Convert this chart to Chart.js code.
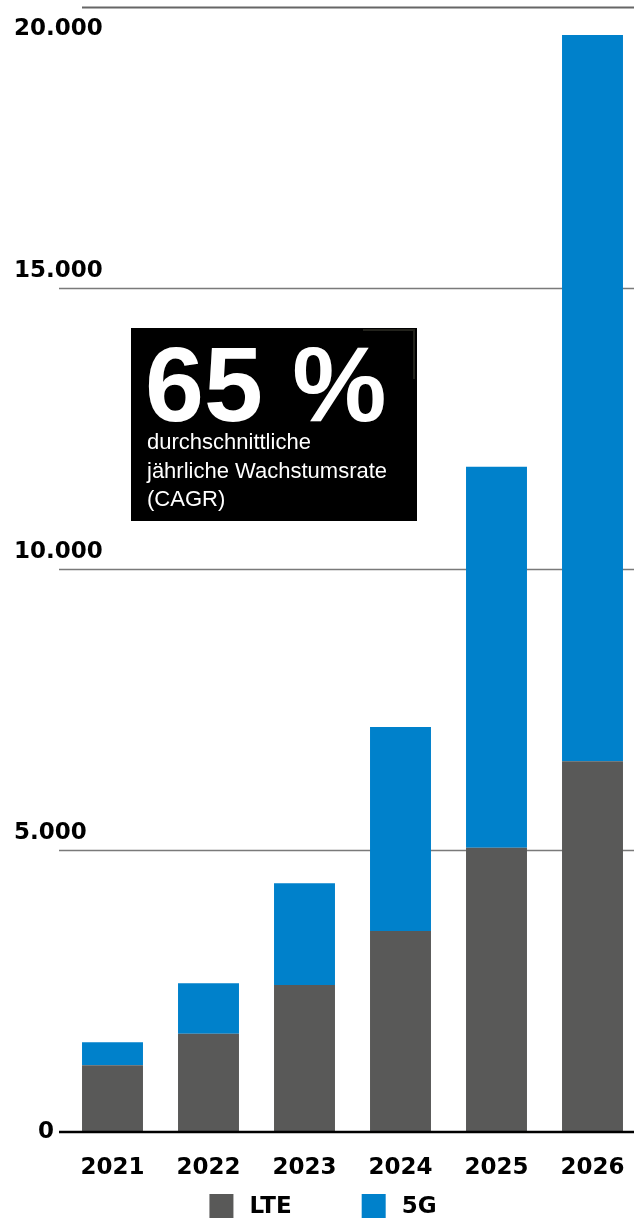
<!DOCTYPE html>
<html>
<head>
    <title>LTE / 5G</title>
    <script src="https://cdn.jsdelivr.net/npm/chart.js"></script>
    <meta charset="UTF-8" />
    <style>
  html, body {
    margin: 0;
    padding: 0;
    overflow: hidden;
    background: #fff;
  }
  .wrap {
    position: relative;
    width: 646px;
    height: 1218px;
  }
  .cagr {
    position: absolute;
    left: 131px;
    top: 328px;
    width: 286px;
    height: 193px;
    background: #000;
    color: #fff;
    font-family: "Liberation Sans", Arial, sans-serif;
  }
  .cagr .big {
    position: absolute;
    left: 14px;
    top: 3px;
    font-size: 106px;
    line-height: 106px;
    font-weight: bold;
    letter-spacing: 0px;
    white-space: nowrap;
  }
  .cagr .small {
    position: absolute;
    left: 16px;
    top: 100px;
    font-size: 22px;
    line-height: 28.5px;
  }
  .cagr .corner {
    position: absolute;
    right: 2px;
    top: 1px;
    width: 50px;
    height: 48px;
    border-top: 2px solid #22221c;
    border-right: 2px solid #22221c;
  }
</style>
</head>
<body>
  <div class="wrap">
    <canvas id="myChart" width="646" height="1218"></canvas>
    <div class="cagr">
      <div class="corner"></div>
      <div class="big">65 %</div>
      <div class="small">durchschnittliche<br>jährliche Wachstumsrate<br>(CAGR)</div>
    </div>
  </div>
    <script>
        // values
        const years = ['2021', '2022', '2023', '2024', '2025', '2026'];
        const lte = [1170, 1730, 2600, 3560, 5040, 6580];
        const fiveG = [410, 900, 1810, 3630, 6780, 12920];
        const yTicks = [0, 5000, 10000, 15000, 20000];
        const yTickLabels = ['0', '5.000', '10.000', '15.000', '20.000'];

        const grey = '#595958';
        const blue = '#0081cb';
        const labelFont = 'bold 23px "DejaVu Sans", sans-serif';

        const extras = {
            id: 'extras',
            beforeDatasetsDraw(chart) {
                const ctx = chart.ctx;
                const y = chart.scales.y;
                ctx.save();
                yTicks.forEach((v, i) => {
                    if (v === 0) return;
                    const py = Math.round(y.getPixelForValue(v)) + 0.5;
                    const top = i === yTicks.length - 1;
                    ctx.strokeStyle = top ? '#666' : '#7a7a7a';
                    ctx.lineWidth = top ? 2 : 1.5;
                    ctx.beginPath();
                    ctx.moveTo(top ? 82 : 59, py);
                    ctx.lineTo(chart.width, py);
                    ctx.stroke();
                });
                ctx.restore();
            },
            afterDatasetsDraw(chart) {
                const ctx = chart.ctx;
                const y = chart.scales.y;
                ctx.save();
                // base line
                const p0 = y.getPixelForValue(0);
                ctx.strokeStyle = '#000';
                ctx.lineWidth = 2.5;
                ctx.beginPath();
                ctx.moveTo(59, p0 + 1);
                ctx.lineTo(chart.width, p0 + 1);
                ctx.stroke();

                // y labels
                ctx.font = labelFont;
                ctx.fillStyle = '#000';
                ctx.textBaseline = 'middle';
                yTicks.forEach((v, i) => {
                    const py = y.getPixelForValue(v);
                    if (v === 0) {
                        ctx.textAlign = 'right';
                        ctx.fillText(yTickLabels[i], 54, py + 1);
                    } else if (i === yTicks.length - 1) {
                        ctx.textAlign = 'left';
                        ctx.fillText(yTickLabels[i], 14, py + 22);
                    } else {
                        ctx.textAlign = 'left';
                        ctx.fillText(yTickLabels[i], 14, py - 17);
                    }
                });

                // legend
                const items = chart.data.datasets.map(d => ({ label: d.label, color: d.backgroundColor }));
                ctx.font = 'bold 23px "DejaVu Sans", sans-serif';
                const box = 24, gapText = 16, gapItem = 70;
                const widths = items.map(it => box + gapText + ctx.measureText(it.label).width);
                const total = widths.reduce((a, b) => a + b, 0) + gapItem * (items.length - 1);
                let x = 323 - total / 2;
                const ly = 1194;
                ctx.textAlign = 'left';
                items.forEach((it, i) => {
                    ctx.fillStyle = it.color;
                    ctx.fillRect(x, ly, box, box);
                    ctx.fillStyle = '#000';
                    ctx.fillText(it.label, x + box + gapText, ly + 13);
                    x += widths[i] + gapItem;
                });
                ctx.restore();
            }
        };

        const ctx = document.getElementById('myChart').getContext('2d');
        const myChart = new Chart(ctx, {
            type: 'bar',
            data: {
                labels: years,
                datasets: [{
                    label: 'LTE',
                    data: lte,
                    backgroundColor: grey
                },
                {
                    label: '5G',
                    data: fiveG,
                    backgroundColor: blue
                }]
            },
            options: {
                responsive: false,
                animation: false,
                categoryPercentage: 1,
                barPercentage: 0.635,
                layout: {
                    padding: { left: 64.5, right: 5.5, top: 7, bottom: 23 }
                },
                plugins: {
                    legend: { display: false },
                    tooltip: { enabled: false }
                },
                scales: {
                    x: {
                        stacked: true,
                        grid: { display: false, drawTicks: false },
                        border: { display: false },
                        ticks: {
                            color: '#000',
                            padding: 23,
                            font: { family: '"DejaVu Sans", sans-serif', size: 23, weight: 'bold' }
                        },
                        afterFit(scale) {
                            scale.height = 64;
                            scale.paddingLeft = 0;
                            scale.paddingRight = 0;
                        }
                    },
                    y: {
                        stacked: true,
                        display: false,
                        min: 0,
                        max: 20000
                    }
                }
            },
            plugins: [extras]
        });
    </script>
</body>
</html>
